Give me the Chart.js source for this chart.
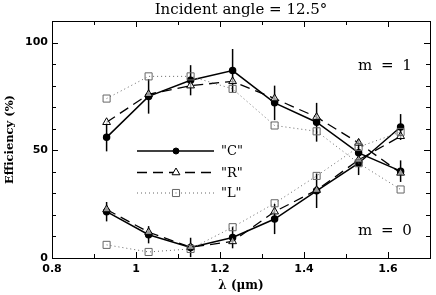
<!DOCTYPE html>
<html><head><meta charset="utf-8">
<script src="https://cdn.jsdelivr.net/npm/chart.js@4/dist/chart.umd.min.js"></script>
<style>html,body{margin:0;padding:0;background:#fff;}canvas{display:block;}</style>
</head><body>
<canvas id="c" width="436" height="295"></canvas>
<script>
// ---- data ----
const wavelengths = [0.93, 1.03, 1.13, 1.23, 1.33, 1.43, 1.53, 1.63];
const cM1 = [56, 75, 82.5, 87, 72, 63, 48.8, 40.3];
const cM1Err = [6.5, 8, 7, 10, 8, 9, 6.5, 5];
const rM1 = [63, 76, 80, 82, 74, 65.4, 53.4, 39.5];
const lM1 = [74, 84.3, 84.3, 78.5, 61.5, 58.8, 44, 31.8];
const cM0 = [21.5, 10.8, 4.9, 9.5, 18.1, 31.2, 44, 60.8];
const cM0Err = [4.5, 4, 4.5, 5, 7, 8, 5.5, 6];
const rM0 = [22.5, 12, 5, 7.7, 21.5, 31.5, 45.5, 56.5];
const lM0 = [6.1, 2.8, 4.2, 14.3, 25.4, 38.1, 51.5, 58.5];
const xTickValues = [0.8, 1.0, 1.2, 1.4, 1.6];
const xTickLabels = ['0.8', '1', '1.2', '1.4', '1.6'];
const yTickValues = [0, 50, 100];
const yTickLabels = ['0', '50', '100'];
const seriesNames = ['"C"', '"R"', '"L"'];
const titleText = 'Incident angle = 12.5°';
const xTitle = 'λ (μm)';
const yTitle = 'Efficiency (%)';

const pts = arr => arr.map((v, i) => ({x: wavelengths[i], y: v}));

const styleC = {borderColor: '#000', borderWidth: 1.5, pointStyle: 'circle', pointRadius: 3, pointBackgroundColor: '#000', pointBorderColor: '#000', borderDash: []};
const styleR = {borderColor: '#000', borderWidth: 1.3, pointStyle: 'triangle', pointRadius: 4.5, pointBackgroundColor: 'rgba(255,255,255,0.6)', pointBorderColor: '#000', pointBorderWidth: 1, borderDash: [10, 6]};
const styleL = {borderColor: '#666', borderWidth: 1, pointStyle: 'rect', pointRadius: 5, pointBackgroundColor: 'rgba(255,255,255,0)', pointBorderColor: '#666', pointBorderWidth: 1, borderDash: [1, 3]};

const datasets = [
  Object.assign({label: 'L m=1', data: pts(lM1)}, styleL),
  Object.assign({label: 'L m=0', data: pts(lM0)}, styleL),
  Object.assign({label: 'R m=1', data: pts(rM1)}, styleR),
  Object.assign({label: 'R m=0', data: pts(rM0)}, styleR),
  Object.assign({label: 'C m=1', data: pts(cM1), err: cM1Err}, styleC),
  Object.assign({label: 'C m=0', data: pts(cM0), err: cM0Err}, styleC),
];
datasets.forEach(d => { d.tension = 0; d.fill = false; d.pointHoverRadius = d.pointRadius; });

const decor = {
  id: 'decor',
  beforeDatasetsDraw(chart) {
    const {ctx, scales: {x, y}} = chart;
    ctx.save();
    ctx.strokeStyle = '#000';
    ctx.lineWidth = 1.5;
    chart.data.datasets.forEach(ds => {
      if (!ds.err) return;
      ds.data.forEach((p, i) => {
        const px = x.getPixelForValue(p.x);
        ctx.beginPath();
        ctx.moveTo(px, y.getPixelForValue(p.y + ds.err[i]));
        ctx.lineTo(px, y.getPixelForValue(p.y - ds.err[i]));
        ctx.stroke();
      });
    });
    ctx.restore();
  },
  afterDraw(chart) {
    const {ctx, chartArea: a, scales: {x, y}} = chart;
    ctx.save();
    // frame
    ctx.strokeStyle = '#000';
    ctx.lineWidth = 1;
    ctx.strokeRect(Math.round(a.left) + 0.5, Math.round(a.top) + 0.5, Math.round(a.right - a.left), Math.round(a.bottom - a.top));
    // x ticks (inside)
    for (let v = 0.8; v <= 1.7001; v += 0.1) {
      const px = Math.round(x.getPixelForValue(v)) + 0.5;
      const major = Math.abs(Math.round(v * 10) % 2) === 0;
      const L = major ? 6 : 4;
      ctx.beginPath();
      ctx.moveTo(px, a.bottom); ctx.lineTo(px, a.bottom - L);
      ctx.moveTo(px, a.top); ctx.lineTo(px, a.top + L);
      ctx.stroke();
    }
    for (let v = 0; v <= 110; v += 10) {
      const py = Math.round(y.getPixelForValue(v)) + 0.5;
      const L = (v % 50 === 0) ? 6 : 4;
      ctx.beginPath();
      ctx.moveTo(a.left, py); ctx.lineTo(a.left + L, py);
      ctx.moveTo(a.right, py); ctx.lineTo(a.right - L, py);
      ctx.stroke();
    }
    ctx.fillStyle = '#000';
    // title
    ctx.font = '15px "DejaVu Serif"';
    ctx.textAlign = 'center';
    ctx.textBaseline = 'middle';
    ctx.fillText(titleText, (a.left + a.right) / 2, 10);
    // x title
    ctx.font = 'bold 12px "DejaVu Serif"';
    ctx.fillText(xTitle, (a.left + a.right) / 2, 286);
    // y title
    ctx.save();
    ctx.translate(10, (a.top + a.bottom) / 2);
    ctx.rotate(-Math.PI / 2);
    ctx.font = 'bold 11.5px "DejaVu Serif"';
    ctx.fillText(yTitle, 0, 0);
    ctx.restore();
    // m labels
    ctx.font = '15px "DejaVu Serif"';
    ctx.textAlign = 'left';
    ctx.letterSpacing = '2px';
    ctx.fillText('m = 1', 358, 66);
    ctx.fillText('m = 0', 358, 231);
    ctx.letterSpacing = '0px';
    // legend
    const styles = [styleC, styleR, styleL];
    const ly = [151, 172.5, 193];
    styles.forEach((s, i) => {
      ctx.save();
      ctx.strokeStyle = s.borderColor;
      ctx.lineWidth = s.borderWidth;
      ctx.setLineDash(s.borderDash);
      ctx.beginPath();
      ctx.moveTo(137, ly[i]); ctx.lineTo(214, ly[i]);
      ctx.stroke();
      ctx.setLineDash([]);
      ctx.lineWidth = s.pointBorderWidth || 1;
      ctx.strokeStyle = s.pointBorderColor;
      ctx.fillStyle = s.pointStyle === 'circle' ? s.pointBackgroundColor : '#fff';
      const cx = 176, cy = ly[i], r = s.pointRadius;
      ctx.beginPath();
      if (s.pointStyle === 'circle') ctx.arc(cx, cy, r, 0, Math.PI * 2);
      else if (s.pointStyle === 'triangle') {
        ctx.moveTo(cx, cy - r);
        ctx.lineTo(cx + r * 0.866, cy + r * 0.5);
        ctx.lineTo(cx - r * 0.866, cy + r * 0.5);
        ctx.closePath();
      } else {
        const h = r * Math.SQRT1_2;
        ctx.rect(cx - h, cy - h, 2 * h, 2 * h);
      }
      ctx.fill(); ctx.stroke();
      if (s.pointStyle === 'rect') { ctx.fillStyle = '#666'; ctx.fillRect(cx - 0.5, cy - 0.5, 1, 1); }
      ctx.restore();
      ctx.fillStyle = '#000';
      ctx.font = '13px "DejaVu Serif"';
      ctx.textAlign = 'left';
      ctx.textBaseline = 'middle';
      ctx.fillText(seriesNames[i], 221, ly[i] + 1);
    });
    ctx.restore();
  }
};

new Chart(document.getElementById('c'), {
  type: 'line',
  data: {datasets},
  options: {
    responsive: false,
    animation: false,
    devicePixelRatio: 1,
    layout: {padding: {top: 21, right: 3, left: 0, bottom: 0}},
    plugins: {legend: {display: false}, title: {display: false}, tooltip: {enabled: false}},
    scales: {
      x: {
        type: 'linear', min: 0.8, max: 1.7,
        afterBuildTicks: s => { s.ticks = xTickValues.map(v => ({value: v})); },
        afterFit: s => { s.height = 37; },
        grid: {display: false, drawTicks: false},
        border: {display: false},
        ticks: {
          padding: 5,
          color: '#000',
          font: {family: 'DejaVu Sans', weight: 'bold', size: 11},
          maxRotation: 0,
          callback: (v) => { const i = xTickValues.findIndex(t => Math.abs(t - v) < 1e-6); return i >= 0 ? xTickLabels[i] : ''; }
        }
      },
      y: {
        type: 'linear', min: 0, max: 110,
        afterBuildTicks: s => { s.ticks = yTickValues.map(v => ({value: v})); },
        afterFit: s => { s.width = 52; },
        grid: {display: false, drawTicks: false},
        border: {display: false},
        ticks: {
          padding: 4,
          color: '#000',
          font: {family: 'DejaVu Sans', weight: 'bold', size: 11},
          callback: (v) => { const i = yTickValues.indexOf(v); return i >= 0 ? yTickLabels[i] : ''; }
        }
      }
    }
  },
  plugins: [decor]
});
</script>
</body></html>
